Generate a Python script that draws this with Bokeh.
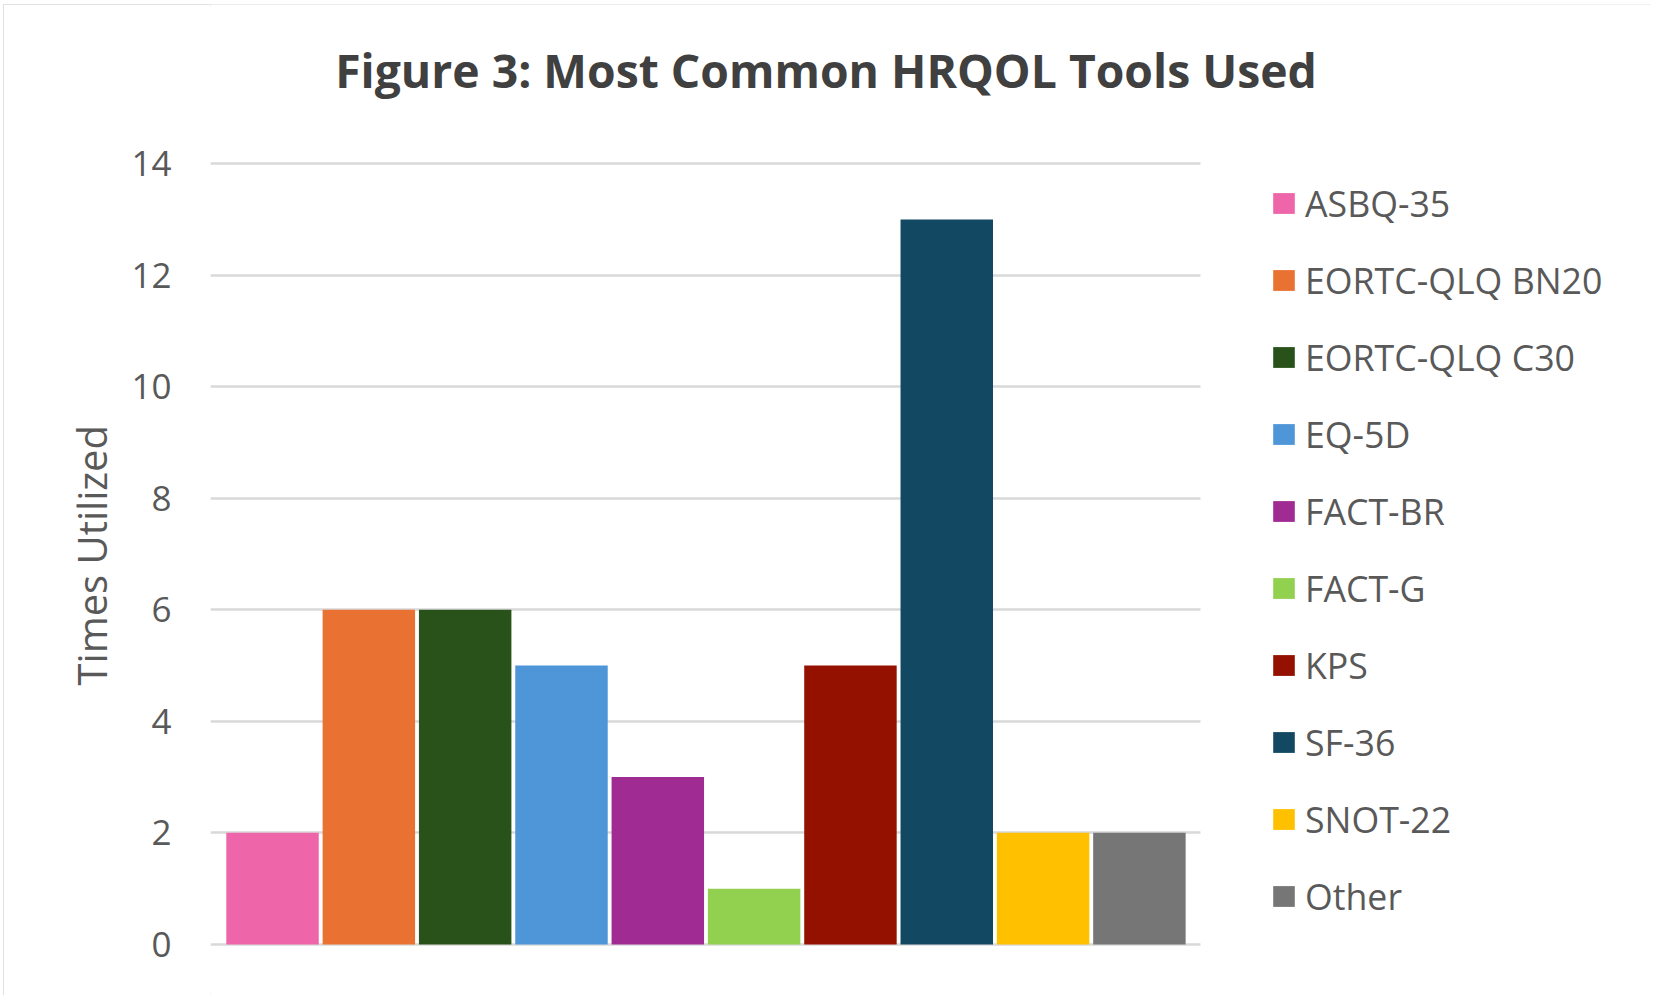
from bokeh.plotting import figure
from bokeh.models import (ColumnDataSource, Range1d, Legend, LegendItem,
                          Title, Label, BoxAnnotation, FixedTicker)
from bokeh.embed import file_html
from bokeh.resources import INLINE

# ---- data ----
tools = ["ASBQ-35", "EORTC-QLQ BN20", "EORTC-QLQ C30", "EQ-5D", "FACT-BR",
         "FACT-G", "KPS", "SF-36", "SNOT-22", "Other"]
times_utilized = [2, 6, 6, 5, 3, 1, 5, 13, 2, 2]
bar_colors = ["#EF65AA", "#E97132", "#285219", "#4F96D9", "#A02B93",
              "#92D050", "#941100", "#124862", "#FFC000", "#767676"]
y_ticks = [0, 2, 4, 6, 8, 10, 12, 14]
title_text = "Figure 3: Most Common HRQOL Tools Used"
y_label = "Times Utilized"

# ---- layout (pixels of the canvas) ----
W, H = 1648, 991
FL = 207                      # left edge of the drawing frame
PX_X = 96.32                  # pixels per category slot
PX_Y = 55.77                  # pixels per unit of value
PLOT_X0, PLOT_X1 = -0.144, 10.134   # horizontal extent of the plot area
Y_ZERO_PX = 939.9             # canvas y of value 0
X0 = PLOT_X0
X1 = PLOT_X0 + (W - FL) / PX_X
Y0 = -(H - Y_ZERO_PX) / PX_Y
Y1 = Y0 + H / PX_Y


def px_to_x(px):
    return X0 + (px - FL) / PX_X


def px_to_y(py):
    return Y0 + (H - py) / PX_Y


src = ColumnDataSource(dict(
    x=[i + 0.5 for i in range(len(tools))],
    top=times_utilized,
    tool=tools,
    color=bar_colors,
))

p = figure(width=W, height=H, output_backend="svg", toolbar_location=None,
           x_range=Range1d(X0, X1), y_range=Range1d(Y0, Y1),
           min_border_left=FL, min_border_top=0,
           min_border_right=0, min_border_bottom=0)
p.outline_line_color = None
p.background_fill_color = "white"
p.border_fill_color = "white"
p.styles = {"outline": "3px solid #d9d9d9", "outline-offset": "-3px",
            "margin-left": "3px", "margin-top": "4px"}

p.xaxis.visible = False
p.xgrid.visible = False

yax = p.yaxis[0]
yax.ticker = FixedTicker(ticks=y_ticks)
yax.axis_line_color = None
yax.major_tick_line_color = None
yax.minor_tick_line_color = None
yax.major_label_text_font = "Open Sans"
yax.major_label_text_font_size = "35px"
yax.major_label_text_color = "#595959"
yax.major_label_standoff = 33

p.ygrid.ticker = FixedTicker(ticks=y_ticks)
p.ygrid.grid_line_color = "#d9d9d9"
p.ygrid.grid_line_width = 2.5

r = p.vbar(x="x", top="top", width=0.96, source=src,
           fill_color="color", line_color=None)

# keep the gridlines inside the plot area
p.add_layout(BoxAnnotation(left=PLOT_X1, fill_color="white", fill_alpha=1.0,
                           line_alpha=0))

# title
p.add_layout(Label(x=px_to_x(822.5), y=px_to_y(66), text=title_text,
                   text_align="center", text_baseline="alphabetic",
                   text_font="Open Sans", text_font_style="bold",
                   text_font_size="46.3px", text_color="#404040"))

# y axis title
p.add_layout(Title(text=y_label, align="left", offset=310,
                   vertical_align="bottom", standoff=20,
                   text_font="Open Sans", text_font_style="normal",
                   text_font_size="40px", text_color="#595959"), "left")

# legend
items = [LegendItem(label=t, renderers=[r], index=i) for i, t in enumerate(tools)]
item_h = 48
pitch = 77
last_center = 199 + 9 * pitch
legend = Legend(items=items,
                location=(1267 - FL, H - (last_center + item_h / 2)),
                glyph_width=27, glyph_height=26, label_height=item_h,
                label_standoff=8, spacing=pitch - item_h,
                label_text_font="Open Sans", label_text_font_size="35.7px",
                label_text_color="#595959",
                padding=0, margin=0, border_line_color=None,
                background_fill_alpha=0)
p.add_layout(legend)

open("out.html", "w").write(file_html(p, INLINE))
